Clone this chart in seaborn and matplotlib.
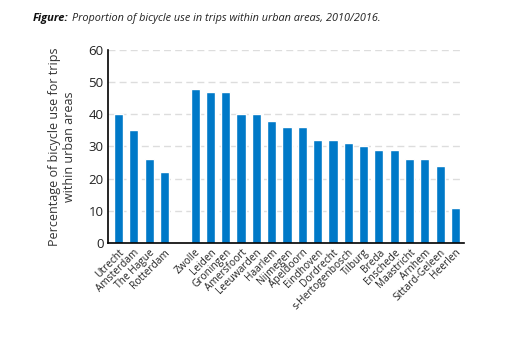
import matplotlib
matplotlib.use("Agg")
import matplotlib.pyplot as plt
import seaborn as sns
import numpy as np
import pandas as pd

cities = ["Utrecht", "Amsterdam", "The Hague", "Rotterdam", " ",
          "Zwolle", "Leiden", "Groningen", "Amersfoort", "Leeuwarden", "Haarlem",
          "Nijmegen", "Apeldoorn", "Eindhoven", "Dordrecht", "s-Hertogenbosch",
          "Tilburg", "Breda", "Enschede", "Maastricht", "Arnhem", "Sittard-Geleen", "Heerlen"]
values = [40, 35, 26, 22, np.nan,
          48, 47, 47, 40, 40, 38, 36, 36, 32, 32, 31, 30, 29, 29, 26, 26, 24, 11]
yticks = [0, 10, 20, 30, 40, 50, 60]

df = pd.DataFrame({"city": cities, "value": values})

sns.set_style("white")
plt.rcParams['font.family'] = ['Open Sans', 'DejaVu Sans']

fig = plt.figure(figsize=(5.16, 3.45), dpi=100)
ax = fig.add_axes([0.209, 0.296, 0.690, 0.559])

sns.barplot(data=df, x="city", y="value", order=cities, color="#0079C8",
            saturation=1, width=0.6, ax=ax)

ax.set_ylim(0, 60)
ax.set_xlim(-0.7, len(cities) - 0.45)
ax.set_yticks(yticks)
ax.set_yticklabels([str(t) for t in yticks], fontsize=9.5, color="#222222")
ax.yaxis.grid(True, linestyle=(0, (5, 3)), color="#dddddd", linewidth=1)
ax.set_axisbelow(True)
ax.tick_params(axis="both", length=0, pad=3)
ax.set_xticks(range(len(cities)))
ax.set_xticklabels(cities, rotation=45, ha="right", rotation_mode="anchor",
                   fontsize=7.3, color="#222222")
ax.set_xlabel("")
ax.set_ylabel("Percentage of bicycle use for trips\nwithin urban areas",
              fontsize=9, color="#333333", labelpad=9)
for s in ["top", "right"]:
    ax.spines[s].set_visible(False)
for s in ["left", "bottom"]:
    ax.spines[s].set_color("black")
    ax.spines[s].set_linewidth(1.2)

t1 = fig.text(0.064, 0.945, "Figure:", fontsize=8, fontweight="bold",
              fontstyle="italic", color="#111111", va="center")
fig.canvas.draw()
bb = t1.get_window_extent()
x2 = bb.x1 / fig.bbox.width + 0.006
fig.text(x2, 0.945, "Proportion of bicycle use in trips within urban areas, 2010/2016.",
         fontsize=7.8, fontstyle="italic", color="#222222", va="center")

fig.savefig("out.png", dpi=100)
